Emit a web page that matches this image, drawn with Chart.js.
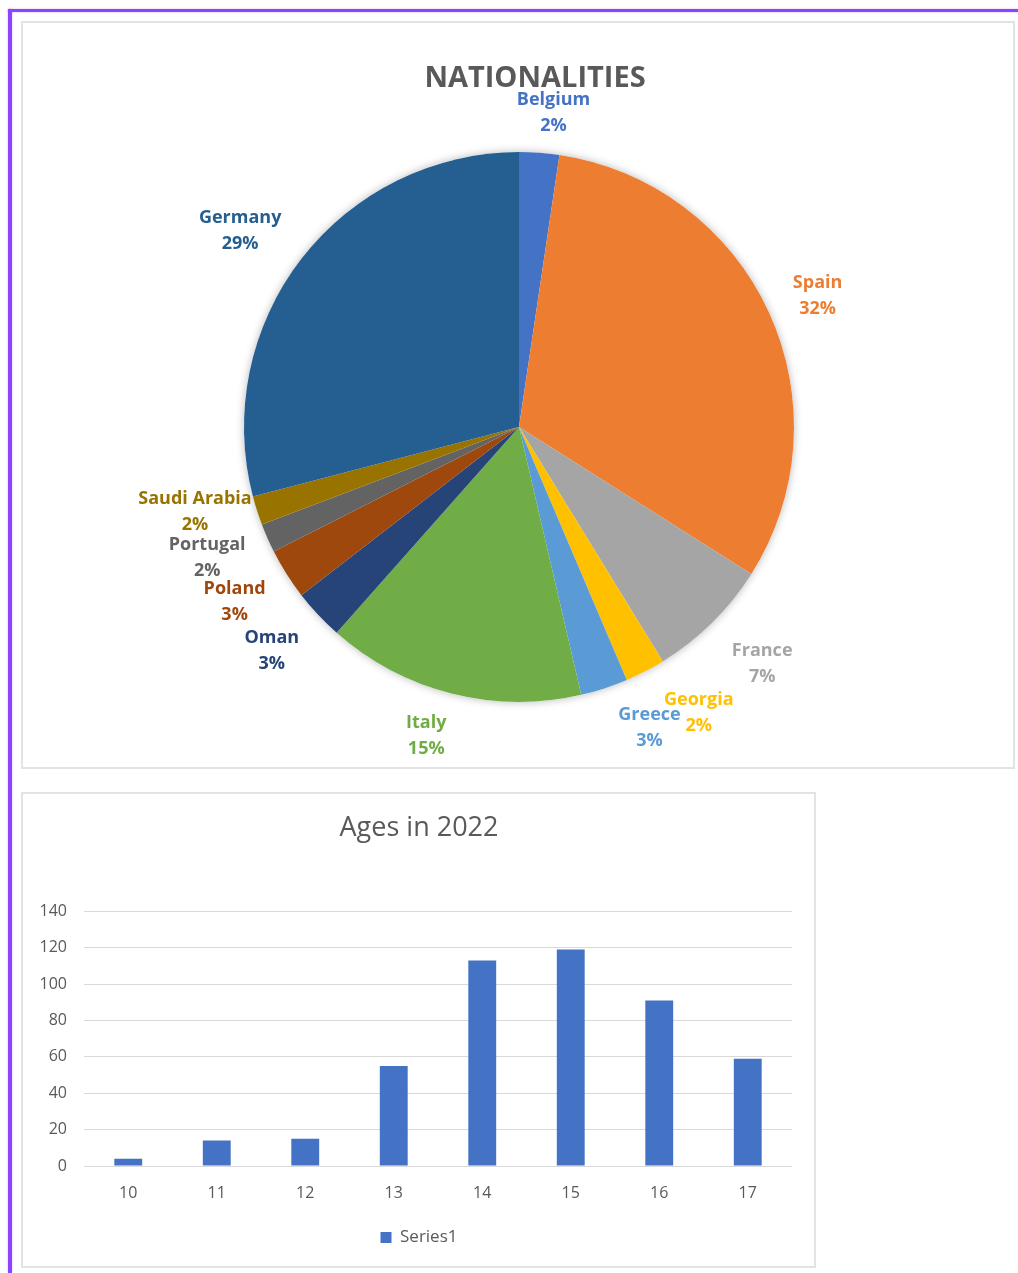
<!DOCTYPE html>
<html>
<head>
<meta charset="utf-8">
<script src="https://cdn.jsdelivr.net/npm/chart.js@4.4.1/dist/chart.umd.min.js"></script>
<style>
  html, body { margin: 0; padding: 0; background: #fff; }
  body { width: 1018px; height: 1273px; position: relative; overflow: hidden; font-family: "Open Sans", sans-serif; }
  .line { position: absolute; background: #8b45ff; box-shadow: 0 0 2px rgba(139, 69, 255, 0.45); }
  .panel { position: absolute; box-sizing: border-box; border: 2px solid #e3e3e3; background: #fff; }
  canvas { position: absolute; }
</style>
</head>
<body>
<div class="line" style="left:8px;top:9px;width:4px;height:1264px"></div>
<div class="line" style="left:8px;top:9px;width:1010px;height:3px"></div>
<div class="panel" style="left:21px;top:21px;width:994px;height:748px"></div>
<div class="panel" style="left:21px;top:792px;width:795px;height:476px"></div>
<canvas id="pie" width="994" height="746" style="left:22px;top:22px"></canvas>
<canvas id="ages" width="770" height="474" style="left:22px;top:793px"></canvas>
<script>
// nationalities (counts, clockwise from 12 o'clock)
const countries = ['Belgium', 'Spain', 'France', 'Georgia', 'Greece', 'Italy', 'Oman', 'Poland', 'Portugal', 'Saudi Arabia', 'Germany'];
const countryCounts = [11, 148, 34, 11, 13, 71, 14, 14, 8, 8, 136];
const countryColors = ['#4472C4', '#ED7D31', '#A5A5A5', '#FFC000', '#5B9BD5', '#70AD47', '#264478', '#9E480E', '#636363', '#997300', '#255E91'];

// ages in 2022
const ageLabels = ['10', '11', '12', '13', '14', '15', '16', '17'];
const ageCounts = [4, 14, 15, 55, 113, 119, 91, 59];

const FONT = '"Open Sans", sans-serif';
const GREY = '#595959';

// soft shadow under the whole pie
const pieShadow = {
  id: 'pieShadow',
  beforeDatasetsDraw(chart) {
    const arc = chart.getDatasetMeta(0).data[0];
    if (!arc) return;
    const ctx = chart.ctx;
    ctx.save();
    ctx.shadowColor = 'rgba(0,0,0,0.28)';
    ctx.shadowBlur = 9;
    ctx.fillStyle = '#fff';
    ctx.beginPath();
    ctx.arc(arc.x, arc.y, arc.outerRadius, 0, Math.PI * 2);
    ctx.fill();
    ctx.restore();
  }
};

// small hand nudges where Excel moved labels apart
const labelNudge = {
  'Belgium': [10, 3], 'Spain': [7, 0], 'France': [14, 5], 'Georgia': [28, -2], 'Greece': [29, -7],
  'Italy': [-15, -5], 'Oman': [-11, 2], 'Poland': [-8, 0], 'Portugal': [-6, -2],
  'Saudi Arabia': [12, -16], 'Germany': [-12, -3]
};

const pieLabels = {
  id: 'pieLabels',
  afterDatasetsDraw(chart) {
    const ctx = chart.ctx;
    const data = chart.data.datasets[0].data;
    const total = data.reduce((a, b) => a + b, 0);
    ctx.save();
    ctx.font = 'bold 18px ' + FONT;
    ctx.textAlign = 'center';
    ctx.textBaseline = 'middle';
    chart.getDatasetMeta(0).data.forEach((arc, i) => {
      const name = chart.data.labels[i];
      const pct = Math.round(data[i] / total * 100) + '%';
      const mid = (arc.startAngle + arc.endAngle) / 2;
      const c = Math.cos(mid), s = Math.sin(mid);
      const hw = ctx.measureText(name).width / 2;
      const hh = 25;
      const d = arc.outerRadius + 21;
      const n = labelNudge[name] || [0, 0];
      const x = arc.x + c * d + c * hw + n[0];
      const y = arc.y + s * d + s * hh + 3 + n[1];
      ctx.fillStyle = countryColors[i];
      ctx.fillText(name, x, y - 13);
      ctx.fillText(pct, x, y + 13);
    });
    ctx.restore();
  }
};

const pieTitle = {
  id: 'pieTitle',
  afterDraw(chart) {
    const ctx = chart.ctx;
    ctx.save();
    ctx.font = 'bold 29px ' + FONT;
    ctx.fillStyle = GREY;
    ctx.textAlign = 'center';
    ctx.textBaseline = 'alphabetic';
    ctx.fillText('NATIONALITIES', 513, 65);
    ctx.restore();
  }
};

// y tick labels sit in the left padding; widen the label clip box so they are not cut
const widenYLabels = {
  id: 'widenYLabels',
  afterLayout(chart) {
    chart.scales.y.left = 0;
  }
};

new Chart(document.getElementById('pie'), {
  type: 'pie',
  data: {
    labels: countries,
    datasets: [{
      data: countryCounts,
      backgroundColor: countryColors,
      borderWidth: 0,
      radius: 275
    }]
  },
  options: {
    responsive: false,
    animation: false,
    layout: { padding: { top: 64 } },
    plugins: { legend: { display: false }, tooltip: { enabled: false } }
  },
  plugins: [pieShadow, pieLabels, pieTitle]
});

new Chart(document.getElementById('ages'), {
  type: 'bar',
  data: {
    labels: ageLabels,
    datasets: [{
      label: 'Series1',
      data: ageCounts,
      backgroundColor: '#4472C4',
      barPercentage: 1,
      categoryPercentage: 0.315
    }]
  },
  options: {
    responsive: false,
    animation: false,
    layout: { padding: { left: 24, right: 0, top: 0, bottom: 11 } },
    plugins: {
      title: {
        display: true,
        text: 'Ages in 2022',
        color: GREY,
        font: { family: FONT, size: 27, weight: 'normal' },
        padding: { top: 19, bottom: 67 }
      },
      legend: {
        position: 'bottom',
        labels: { boxWidth: 11, boxHeight: 11, color: GREY, font: { family: FONT, size: 17 }, padding: 10 }
      },
      tooltip: { enabled: false }
    },
    scales: {
      x: {
        grid: { display: false },
        border: { color: '#d9d9d9' },
        ticks: { color: GREY, font: { family: FONT, size: 16 }, padding: 10 },
        afterFit(scale) { scale.height = 53; }
      },
      y: {
        min: 0,
        max: 140,
        ticks: { stepSize: 20, color: GREY, font: { family: FONT, size: 16 }, padding: 17 },
        grid: { color: '#d9d9d9', drawTicks: false },
        border: { display: false },
        afterFit(scale) { scale.width = 38; }
      }
    }
  },
  plugins: [widenYLabels]
});
</script>
</body>
</html>
